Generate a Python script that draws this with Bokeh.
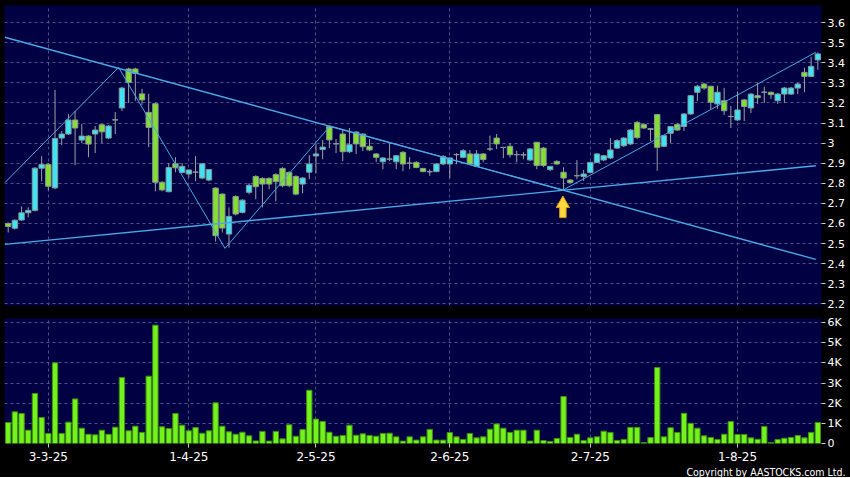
from bokeh.plotting import figure
from bokeh.models import FixedTicker, Grid, Range1d, Title, ColumnDataSource, PrintfTickFormatter
from bokeh.layouts import column
from bokeh.embed import file_html
from bokeh.resources import INLINE

# ---------------- data ----------------
opens = [2.600, 2.576, 2.617, 2.653, 2.665, 2.875, 2.893, 2.777, 3.025, 3.045,
         3.115, 3.015, 3.035, 3.045, 3.091, 3.025, 3.115, 3.175, 3.369, 3.369,
         3.245, 3.153, 3.196, 2.805, 2.758, 2.897, 2.854, 2.846, 2.855, 2.826,
         2.816, 2.776, 2.746, 2.547, 2.734, 2.655, 2.755, 2.834, 2.824, 2.824,
         2.843, 2.874, 2.854, 2.834, 2.796, 2.855, 2.936, 2.968, 3.082, 2.996,
         3.045, 2.957, 3.055, 3.045, 2.984, 2.946, 2.907, 2.920, 2.907, 2.954,
         2.900, 2.904, 2.874, 2.857, 2.858, 2.896, 2.896, 2.942, 2.929, 2.946,
         2.884, 2.946, 2.970, 3.025, 2.978, 2.984, 2.942, 2.942, 2.916, 3.004,
         2.975, 2.868, 2.909, 2.855, 2.816, 2.837, 2.834, 2.854, 2.904, 2.916,
         2.926, 2.975, 2.987, 2.996, 3.103, 3.092, 3.072, 3.142, 2.984, 3.049,
         3.092, 3.083, 3.145, 3.253, 3.294, 3.283, 3.195, 3.211, 3.132, 3.115,
         3.215, 3.175, 3.236, 3.253, 3.253, 3.211, 3.244, 3.244, 3.274, 3.352,
         3.332, 3.414]
highs = [2.605, 2.620, 2.685, 2.680, 2.880, 2.935, 2.900, 3.265, 3.060, 3.145,
         3.160, 3.095, 3.040, 3.085, 3.095, 3.090, 3.155, 3.280, 3.375, 3.375,
         3.270, 3.245, 3.200, 2.810, 2.900, 2.930, 2.900, 2.870, 2.935, 2.900,
         2.870, 2.780, 2.750, 2.680, 2.740, 2.720, 2.800, 2.840, 2.830, 2.830,
         2.850, 2.880, 2.860, 2.840, 2.830, 2.940, 2.995, 3.015, 3.090, 3.020,
         3.070, 3.075, 3.060, 3.050, 3.020, 2.950, 2.930, 3.000, 2.940, 2.960,
         2.930, 2.910, 2.875, 2.870, 2.900, 2.940, 2.930, 2.950, 2.970, 2.965,
         2.965, 2.950, 3.037, 3.045, 2.980, 3.000, 2.962, 2.955, 2.975, 3.005,
         2.980, 2.885, 2.915, 2.880, 2.820, 2.915, 2.866, 2.905, 2.950, 2.940,
         3.025, 3.020, 3.030, 3.070, 3.110, 3.100, 3.075, 3.145, 3.040, 3.085,
         3.100, 3.150, 3.240, 3.290, 3.300, 3.285, 3.286, 3.275, 3.185, 3.257,
         3.220, 3.250, 3.300, 3.280, 3.256, 3.250, 3.280, 3.280, 3.300, 3.375,
         3.430, 3.452]
lows = [2.555, 2.570, 2.612, 2.630, 2.660, 2.810, 2.765, 2.770, 2.990, 3.040,
        2.890, 3.000, 2.930, 2.950, 3.000, 3.020, 3.045, 3.160, 3.200, 3.210,
        3.190, 2.980, 2.760, 2.760, 2.755, 2.855, 2.850, 2.830, 2.810, 2.820,
        2.810, 2.510, 2.555, 2.480, 2.640, 2.650, 2.745, 2.720, 2.680, 2.770,
        2.710, 2.780, 2.780, 2.740, 2.750, 2.820, 2.850, 2.920, 2.975, 2.950,
        2.910, 2.950, 2.946, 2.960, 2.960, 2.905, 2.870, 2.910, 2.870, 2.860,
        2.870, 2.875, 2.855, 2.837, 2.855, 2.890, 2.826, 2.895, 2.925, 2.895,
        2.880, 2.905, 2.960, 2.970, 2.925, 2.928, 2.905, 2.920, 2.910, 2.870,
        2.880, 2.860, 2.890, 2.767, 2.800, 2.820, 2.812, 2.850, 2.900, 2.910,
        2.920, 2.970, 2.980, 2.990, 3.020, 3.070, 3.010, 2.862, 2.980, 3.000,
        3.060, 3.060, 3.140, 3.210, 3.265, 3.170, 3.170, 3.140, 3.075, 3.110,
        3.110, 3.150, 3.195, 3.200, 3.220, 3.195, 3.200, 3.240, 3.244, 3.253,
        3.330, 3.365]
closes = [2.585, 2.616, 2.653, 2.665, 2.875, 2.893, 2.785, 3.023, 3.045, 3.115,
          3.075, 3.035, 2.995, 3.065, 3.056, 3.085, 3.116, 3.274, 3.302, 3.347,
          3.215, 3.078, 2.805, 2.767, 2.878, 2.877, 2.884, 2.866, 2.856, 2.897,
          2.868, 2.539, 2.577, 2.635, 2.647, 2.716, 2.790, 2.783, 2.796, 2.796,
          2.808, 2.788, 2.788, 2.746, 2.826, 2.896, 2.946, 2.980, 3.016, 2.997,
          2.957, 2.992, 2.996, 2.982, 2.966, 2.929, 2.926, 2.921, 2.937, 2.896,
          2.901, 2.879, 2.858, 2.858, 2.896, 2.934, 2.926, 2.943, 2.962, 2.896,
          2.946, 2.918, 2.971, 2.996, 2.979, 2.942, 2.943, 2.941, 2.971, 2.888,
          2.888, 2.884, 2.896, 2.826, 2.804, 2.838, 2.846, 2.904, 2.946, 2.937,
          2.966, 3.012, 3.025, 3.065, 3.028, 3.075, 3.068, 2.979, 3.037, 3.082,
          3.065, 3.145, 3.236, 3.283, 3.274, 3.203, 3.253, 3.161, 3.133, 3.165,
          3.182, 3.244, 3.226, 3.254, 3.241, 3.244, 3.274, 3.274, 3.294, 3.332,
          3.382, 3.444]
volumes_k = [1.04, 1.57, 1.49, 0.66, 2.48, 1.29, 0.50, 4.00, 0.50, 1.06,
             2.21, 0.76, 0.46, 0.43, 0.66, 0.46, 0.81, 3.27, 0.63, 0.86,
             0.55, 3.34, 5.87, 0.83, 0.74, 1.49, 0.91, 0.63, 0.79, 0.51,
             0.63, 2.02, 0.86, 0.58, 0.46, 0.56, 0.38, 0.13, 0.60, 0.12,
             0.60, 0.23, 0.93, 0.36, 0.69, 2.64, 1.21, 1.09, 0.56, 0.36,
             0.40, 0.91, 0.41, 0.48, 0.40, 0.36, 0.50, 0.51, 0.33, 0.12,
             0.33, 0.17, 0.33, 0.70, 0.17, 0.17, 0.55, 0.33, 0.20, 0.50,
             0.28, 0.33, 0.71, 0.97, 0.76, 0.55, 0.66, 0.66, 0.12, 0.66,
             0.15, 0.10, 0.25, 2.33, 0.30, 0.46, 0.15, 0.28, 0.33, 0.61,
             0.55, 0.15, 0.20, 0.80, 0.80, 0.05, 0.30, 3.77, 0.33, 0.78,
             0.55, 1.50, 1.00, 0.76, 0.38, 0.30, 0.20, 0.46, 1.09, 0.45,
             0.45, 0.28, 0.21, 0.84, 0.05, 0.20, 0.26, 0.30, 0.40, 0.28,
             0.55, 1.04]

date_tick_index = [6, 27, 46, 66, 87, 109]
date_tick_labels = ["3-3-25", "1-4-25", "2-5-25", "2-6-25", "2-7-25", "1-8-25"]
price_ticks = [2.2, 2.3, 2.4, 2.5, 2.6, 2.7, 2.8, 2.9, 3.0, 3.1, 3.2, 3.3, 3.4, 3.5, 3.6]
volume_ticks = [0, 1, 2, 3, 4, 5, 6]
volume_tick_labels = ["0", "1K", "2K", "3K", "4K", "5K", "6K"]

# trend lines (index, price)
down_line_x = [-0.5, 120.7]
down_line_y = [3.527, 2.421]
up_line_x = [-0.5, 120.7]
up_line_y = [2.496, 2.887]
zigzag_x = [-0.5, 16.5, 32.4, 48.1, 82.9, 120.7]
zigzag_y = [2.803, 3.377, 2.476, 3.085, 2.766, 3.452]

arrow_index = 82.9
arrow_price = 2.737

copyright_text = "Copyright by AASTOCKS.com Ltd."

# ---------------- style ----------------
NAVY = "#000042"
GRID = "#50508c"
CYAN = "#3ce4f4"
GREEN = "#84e030"
VOL = "#74f21c"
VOL_EDGE = "#3f8f10"
TREND = "#4aa8e6"
FONT = "DejaVu Sans"
FRAME_W = 817

idx = list(range(len(opens)))
colors = [CYAN if c >= o else GREEN for o, c in zip(opens, closes)]
src = ColumnDataSource(dict(
    x=idx, o=opens, h=highs, l=lows, c=closes,
    top=[max(o, c) for o, c in zip(opens, closes)],
    bot=[min(o, c) for o, c in zip(opens, closes)],
    color=colors, vol=volumes_k))


def style_axis(ax, size):
    ax.axis_line_color = None
    ax.major_tick_line_color = "#c8c8c8"
    ax.minor_tick_line_color = None
    ax.major_tick_in = 0
    ax.major_tick_out = 4
    ax.major_label_standoff = 2
    ax.major_label_text_color = "white"
    ax.major_label_text_font = FONT
    ax.major_label_text_font_size = size


# ---------------- price panel ----------------
p = figure(frame_width=FRAME_W, frame_height=300,
           x_range=Range1d(-0.55, 121.55), y_range=Range1d(2.1915, 3.685),
           x_axis_location=None, y_axis_location="right",
           output_backend="svg", toolbar_location=None,
           background_fill_color=NAVY, border_fill_color="black",
           outline_line_color=None,
           min_border_left=4, min_border_right=29, min_border_top=5, min_border_bottom=8)
p.yaxis.ticker = FixedTicker(ticks=price_ticks)
p.yaxis.formatter = PrintfTickFormatter(format="%g")
style_axis(p.yaxis[0], "11px")
p.ygrid.grid_line_color = GRID
p.ygrid.grid_line_dash = "3 3"
if len(p.xgrid) > 0:
    p.xgrid.ticker = FixedTicker(ticks=date_tick_index)
    p.xgrid.grid_line_color = GRID
    p.xgrid.grid_line_dash = "3 3"
else:
    p.add_layout(Grid(dimension=0, ticker=FixedTicker(ticks=date_tick_index),
                      grid_line_color=GRID, grid_line_dash="3 3"))

p.segment(x0="x", y0="h", x1="x", y1="l", source=src, line_color="#a0a0a0", line_width=1)
p.vbar(x="x", top="top", bottom="bot", width=0.8, source=src,
       fill_color="color", line_color="#8a9898", line_width=1)

p.line(down_line_x, down_line_y, line_color=TREND, line_width=1.4)
p.line(up_line_x, up_line_y, line_color=TREND, line_width=1.4)
p.line(zigzag_x, zigzag_y, line_color=TREND, line_width=1)

# yellow up arrow marker
head_h, total_h, head_w, shaft_w = 0.058, 0.108, 0.99, 0.48
ax_pts = [arrow_index, arrow_index + head_w, arrow_index + shaft_w, arrow_index + shaft_w,
          arrow_index - shaft_w, arrow_index - shaft_w, arrow_index - head_w]
ay_pts = [arrow_price, arrow_price - head_h, arrow_price - head_h, arrow_price - total_h,
          arrow_price - total_h, arrow_price - head_h, arrow_price - head_h]
p.patch(ax_pts, ay_pts, fill_color="#ffd640", line_color="#d9a010", line_width=1)

# ---------------- volume panel ----------------
v = figure(frame_width=FRAME_W, frame_height=125,
           x_range=p.x_range, y_range=Range1d(0, 6.2),
           y_axis_location="right",
           output_backend="svg", toolbar_location=None,
           background_fill_color=NAVY, border_fill_color="black",
           outline_line_color=None,
           min_border_left=4, min_border_right=29, min_border_top=5, min_border_bottom=0)
v.vbar(x="x", top="vol", bottom=0, width=0.8, source=src,
       fill_color=VOL, line_color=VOL_EDGE, line_width=1)
v.yaxis.ticker = FixedTicker(ticks=volume_ticks)
v.yaxis.major_label_overrides = dict(zip(volume_ticks, volume_tick_labels))
style_axis(v.yaxis[0], "11px")
v.xaxis.ticker = FixedTicker(ticks=date_tick_index)
v.xaxis.major_label_overrides = dict(zip(date_tick_index, date_tick_labels))
style_axis(v.xaxis[0], "12px")
v.xaxis.major_tick_out = 4
v.xaxis.major_label_standoff = 4
v.xgrid.ticker = FixedTicker(ticks=date_tick_index)
v.xgrid.grid_line_color = GRID
v.xgrid.grid_line_dash = "3 3"
v.ygrid.grid_line_color = GRID
v.ygrid.grid_line_dash = "3 3"

v.add_layout(Title(text=copyright_text, align="right", text_color="white",
                   text_font="DejaVu Sans Condensed",
                   text_font_size="10.5px", text_font_style="normal",
                   offset=-24, standoff=0), "below")

layout = column(p, v, spacing=0, styles={"background-color": "black"})

open("out.html", "w").write(file_html(layout, INLINE))
